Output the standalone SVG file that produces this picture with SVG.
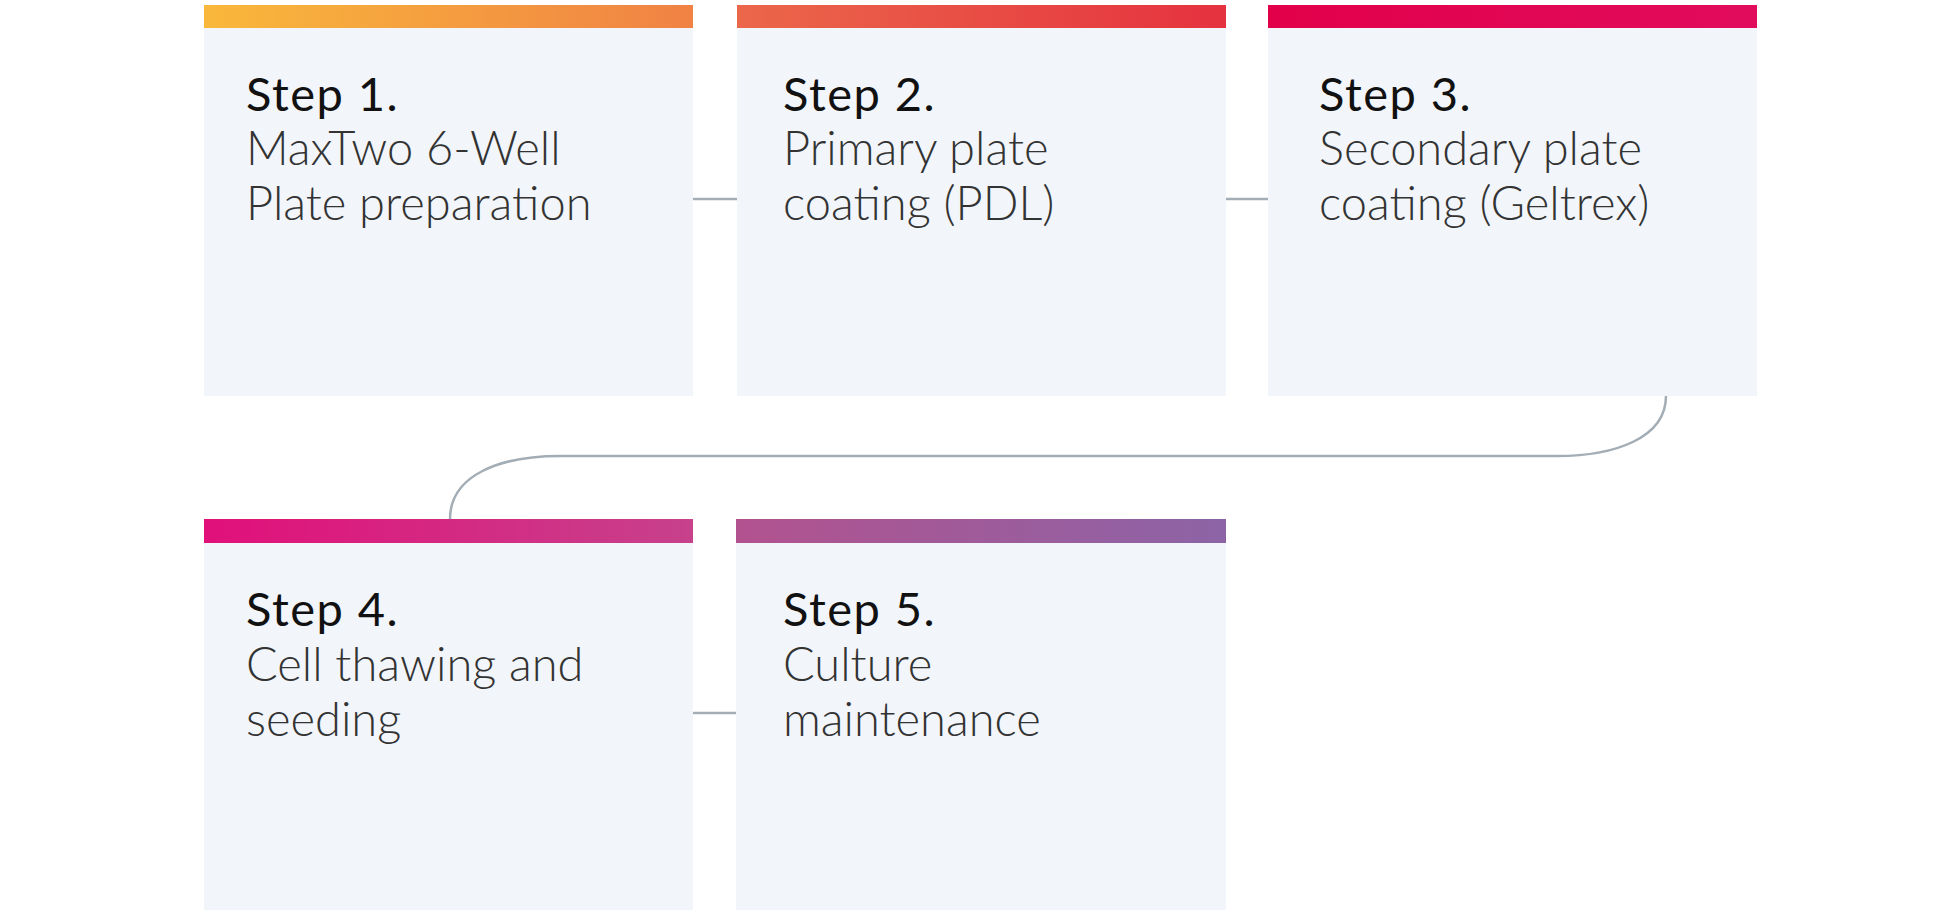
<svg xmlns="http://www.w3.org/2000/svg" width="1957" height="916" viewBox="0 0 1957 916">
<defs>
<linearGradient id="g1" x1="0" x2="1" y1="0" y2="0"><stop offset="0" stop-color="#f9b83b"/><stop offset="1" stop-color="#f08244"/></linearGradient>
<linearGradient id="g2" x1="0" x2="1" y1="0" y2="0"><stop offset="0" stop-color="#eb674a"/><stop offset="1" stop-color="#e5323f"/></linearGradient>
<linearGradient id="g3" x1="0" x2="1" y1="0" y2="0"><stop offset="0" stop-color="#e2004a"/><stop offset="1" stop-color="#e10c5c"/></linearGradient>
<linearGradient id="g4" x1="0" x2="1" y1="0" y2="0"><stop offset="0" stop-color="#e1107a"/><stop offset="1" stop-color="#c7418b"/></linearGradient>
<linearGradient id="g5" x1="0" x2="1" y1="0" y2="0"><stop offset="0" stop-color="#b2528f"/><stop offset="1" stop-color="#8c64a6"/></linearGradient>
<style>
.body{fill:#f2f5fa}
.conn{fill:none;stroke:#a3adb5;stroke-width:2.5}
.h{font-family:Lato,"Noto Sans",sans-serif;font-size:47px;font-weight:400;letter-spacing:1.5px;fill:#111}
.t{font-family:Lato,"Noto Sans",sans-serif;font-size:47px;font-weight:300;fill:#333}
</style>
</defs>
<rect width="1957" height="916" fill="#ffffff"/>
<g id="connectors">
<line class="conn" x1="693" y1="199" x2="737" y2="199"/>
<line class="conn" x1="1226" y1="199" x2="1268" y2="199"/>
<line class="conn" x1="693" y1="713" x2="736" y2="713"/>
<path class="conn" d="M1666,396 C1666,438 1615,456 1557,456 L560,456 C500,456 450,475 450,519"/>
</g>
<g id="step1">
<rect class="body" x="204" y="28" width="489" height="368"/>
<rect x="204" y="5" width="489" height="23" fill="url(#g1)"/>
<text class="h" x="246" y="111">Step 1.</text>
<text class="t" x="246" y="165">MaxTwo 6-Well</text>
<text class="t" x="246" y="220">Plate preparation</text>
</g>
<g id="step2">
<rect class="body" x="737" y="28" width="489" height="368"/>
<rect x="737" y="5" width="489" height="23" fill="url(#g2)"/>
<text class="h" x="783" y="111">Step 2.</text>
<text class="t" x="783" y="165">Primary plate</text>
<text class="t" x="783" y="220">coating (PDL)</text>
</g>
<g id="step3">
<rect class="body" x="1268" y="28" width="489" height="368"/>
<rect x="1268" y="5" width="489" height="23" fill="url(#g3)"/>
<text class="h" x="1319" y="111">Step 3.</text>
<text class="t" x="1319" y="165">Secondary plate</text>
<text class="t" x="1319" y="220">coating (Geltrex)</text>
</g>
<g id="step4">
<rect class="body" x="204" y="543" width="489" height="367"/>
<rect x="204" y="519" width="489" height="24" fill="url(#g4)"/>
<text class="h" x="246" y="626">Step 4.</text>
<text class="t" x="246" y="681">Cell thawing and</text>
<text class="t" x="246" y="736">seeding</text>
</g>
<g id="step5">
<rect class="body" x="736" y="543" width="490" height="367"/>
<rect x="736" y="519" width="490" height="24" fill="url(#g5)"/>
<text class="h" x="783" y="626">Step 5.</text>
<text class="t" x="783" y="681">Culture</text>
<text class="t" x="783" y="736">maintenance</text>
</g>
</svg>
